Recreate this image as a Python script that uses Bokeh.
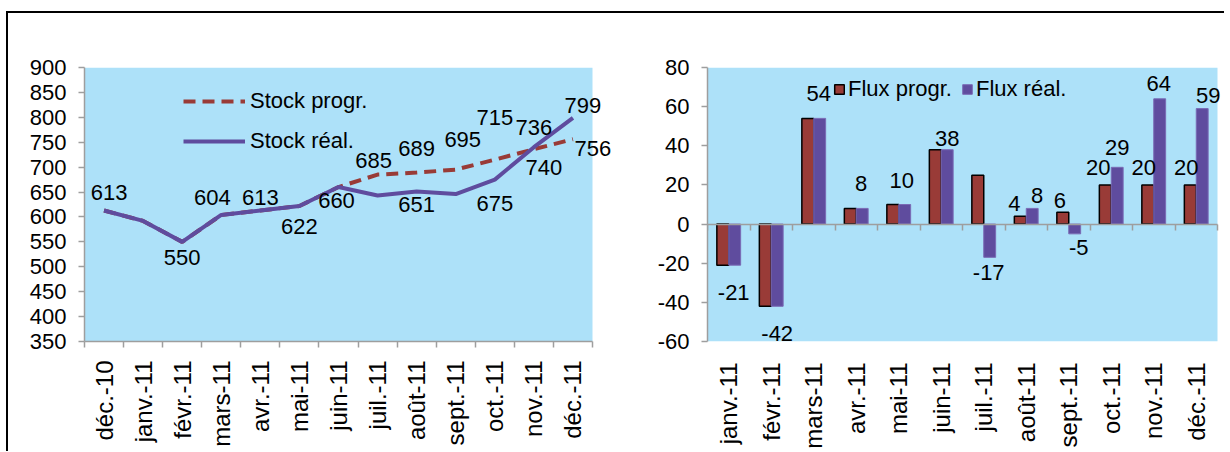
import math
from bokeh.plotting import figure
from bokeh.models import (ColumnDataSource, FixedTicker, Legend, LegendItem,
                          LinearAxis, Range1d, Label, BoxAnnotation)
from bokeh.layouts import row
from bokeh.embed import file_html
from bokeh.resources import INLINE
from bokeh.transform import dodge

# ---------------- data ----------------
stock_months = ["déc.-10", "janv.-11", "févr.-11", "mars-11", "avr.-11", "mai-11",
                "juin-11", "juil.-11", "août-11", "sept.-11", "oct.-11", "nov.-11", "déc.-11"]
stock_prog = [613, 592, 550, 604, 613, 622, 660, 685, 689, 695, 715, 736, 756]
stock_real = [613, 592, 550, 604, 613, 622, 660, 643, 651, 646, 675, 740, 799]
stock_real_labelled = [0, 2, 3, 4, 5, 6, 8, 10, 11, 12]
stock_prog_labelled = [7, 8, 9, 10, 11, 12]

flux_months = ["janv.-11", "févr.-11", "mars-11", "avr.-11", "mai-11", "juin-11",
               "juil.-11", "août-11", "sept.-11", "oct.-11", "nov.-11", "déc.-11"]
flux_prog = [-21, -42, 54, 8, 10, 38, 25, 4, 6, 20, 20, 20]
flux_real = [-21, -42, 54, 8, 10, 38, -17, 8, -5, 29, 64, 59]
flux_prog_labelled = [7, 8, 9, 10, 11]

stock_ticks = list(range(350, 901, 50))
flux_ticks = list(range(-60, 81, 20))

# ---------------- styles ----------------
BG = "#ADE1F9"
RED = "#993B37"
PURPLE = "#5F4C9E"
GREY = "#9E9E9E"
FONT = "Liberation Sans"
FS = "22px"
XFS = "24px"

# label placement (pixels, + = up / right) -- styling only
real_lbl_dx = [5, 0, -9, 0, 0, -2, 0, 0, 10, 10]
real_lbl_dy = [18, -16, 17, 13, -21, -13, -13, -24, -20, 12]
prog_lbl_dx = [-4, 0, 7, 0, 0, 20]
prog_lbl_dy = [14, 24, 30, 42, 22, -9]

fr_lbl_dx = [-1, 0, -1, -1, -3, 0, -1, 5, 4, 0, -1, 6]
fr_lbl_dy = [-27, -27, 25, 25, 24, 11, -15, 13, -14, 20, 15, 13]
fp_lbl_dx = [-6, -3, -7, -4, -4]
fp_lbl_dy = [13, 12, 17, 17, 17]

H = 438
TOP = 54
FRAME_H = 275
MB = H - TOP - FRAME_H
W1, BL1, PLOT_W1 = 606, 76, 508   # left figure: width, left border, coloured plot width
W2, BL2, PLOT_W2 = 610, 93, 510   # right figure


def style_common(p, ticks, n, plot_w, fig_w, border_l):
    # blue plot area limited to the categories; frame extended so edge labels are not cut
    p.background_fill_color = "white"
    p.border_fill_color = "white"
    p.outline_line_color = None
    p.grid.visible = False
    p.add_layout(BoxAnnotation(left=-0.5, right=n - 0.5, fill_color=BG, fill_alpha=1,
                               line_color=None, level="underlay"))
    for ax in p.yaxis:
        ax.ticker = FixedTicker(ticks=ticks)
        ax.major_label_overrides = {t: str(t) for t in ticks}
        ax.axis_line_color = GREY
        ax.axis_line_width = 1.5
        ax.major_tick_line_color = GREY
        ax.major_tick_line_width = 1.5
        ax.major_tick_out = 6
        ax.major_tick_in = 0
        ax.minor_tick_line_color = None
        ax.major_label_standoff = 12
        ax.major_label_text_font = FONT
        ax.major_label_text_font_size = FS
        ax.major_label_text_color = "black"


def x_end(n, plot_w, fig_w, border_l):
    cat_px = plot_w / n
    return -0.5 + (fig_w - border_l) / cat_px


def add_labels(p, xs, ys, dxs, dys):
    for x, y, dx, dy in zip(xs, ys, dxs, dys):
        p.add_layout(Label(x=x, y=y, text=str(y), x_offset=dx, y_offset=dy,
                           text_align="center", text_baseline="middle", text_color="black",
                           text_font=FONT, text_font_size=FS))


def style_xaxis(ax, months, standoff):
    ax.major_label_overrides = {i: m for i, m in enumerate(months)}
    ax.major_label_orientation = math.pi / 2
    ax.major_tick_line_color = None
    ax.major_tick_out = 6
    ax.major_tick_in = 0
    ax.major_label_standoff = standoff
    ax.major_label_text_font = FONT
    ax.major_label_text_font_size = XFS
    ax.major_label_text_color = "black"


# ---------------- left chart: stocks ----------------
n1 = len(stock_months)
p1 = figure(width=W1, height=H, x_range=Range1d(-0.5, x_end(n1, PLOT_W1, W1, BL1)),
            y_range=Range1d(stock_ticks[0], stock_ticks[-1]),
            output_backend="svg", toolbar_location=None,
            min_border_left=BL1, min_border_right=0, min_border_top=TOP, min_border_bottom=MB)
style_common(p1, stock_ticks, n1, PLOT_W1, W1, BL1)

xa = p1.xaxis[0]
xa.ticker = FixedTicker(ticks=list(range(n1)), minor_ticks=[i - 0.5 for i in range(n1 + 1)])
xa.bounds = (-0.5, n1 - 0.5)
style_xaxis(xa, stock_months, 13)
xa.minor_tick_line_color = GREY
xa.minor_tick_line_width = 1.5
xa.minor_tick_out = 6
xa.minor_tick_in = 0
xa.axis_line_color = GREY
xa.axis_line_width = 1.5

src1 = ColumnDataSource(dict(x=list(range(n1)), prog=stock_prog, real=stock_real))
r_prog = p1.line("x", "prog", source=src1, line_color=RED, line_width=4, line_dash="12 7")
r_real = p1.line("x", "real", source=src1, line_color=PURPLE, line_width=4)

add_labels(p1, stock_real_labelled, [stock_real[i] for i in stock_real_labelled],
           real_lbl_dx, real_lbl_dy)
add_labels(p1, stock_prog_labelled, [stock_prog[i] for i in stock_prog_labelled],
           prog_lbl_dx, prog_lbl_dy)

leg1 = Legend(items=[LegendItem(label="Stock progr.", renderers=[r_prog]),
                     LegendItem(label="Stock réal.", renderers=[r_real])],
              location=(99, 187), orientation="vertical",
              background_fill_alpha=0, border_line_color=None,
              padding=0, margin=0, spacing=14,
              glyph_width=62, glyph_height=24, label_height=24, label_standoff=5,
              label_text_font=FONT, label_text_font_size=FS, label_text_color="black")
p1.add_layout(leg1)

# ---------------- right chart: flux ----------------
n2 = len(flux_months)
p2 = figure(width=W2, height=H, x_range=Range1d(-0.5, x_end(n2, PLOT_W2, W2, BL2)),
            y_range=Range1d(flux_ticks[0], flux_ticks[-1]),
            output_backend="svg", toolbar_location=None,
            min_border_left=BL2, min_border_right=0, min_border_top=TOP, min_border_bottom=MB)
style_common(p2, flux_ticks, n2, PLOT_W2, W2, BL2)

xb = p2.xaxis[0]
xb.ticker = FixedTicker(ticks=list(range(n2)))
style_xaxis(xb, flux_months, 15)
xb.minor_tick_line_color = None
xb.axis_line_color = None

zero_axis = LinearAxis(fixed_location=0, bounds=(-0.5, n2 - 0.5),
                       ticker=FixedTicker(ticks=[], minor_ticks=[i - 0.5 for i in range(n2 + 1)]),
                       axis_line_color=GREY, axis_line_width=1.5,
                       major_tick_line_color=None, minor_tick_line_color=GREY,
                       minor_tick_line_width=1.5, minor_tick_in=6, minor_tick_out=0,
                       major_label_text_alpha=0)
p2.add_layout(zero_axis, "above")

src2 = ColumnDataSource(dict(x=list(range(n2)), prog=flux_prog, real=flux_real))
bw = 0.28
r_fp = p2.vbar(x=dodge("x", -bw / 2, range=p2.x_range), top="prog", bottom=0, width=bw,
               source=src2, fill_color=RED, line_color="black", line_width=1.5)
r_fr = p2.vbar(x=dodge("x", bw / 2, range=p2.x_range), top="real", bottom=0, width=bw,
               source=src2, fill_color=PURPLE, line_color="#7A6AB5", line_width=1)

add_labels(p2, [i + bw / 2 for i in range(n2)], flux_real, fr_lbl_dx, fr_lbl_dy)
add_labels(p2, [i - bw / 2 for i in flux_prog_labelled],
           [flux_prog[i] for i in flux_prog_labelled], fp_lbl_dx, fp_lbl_dy)

leg2 = Legend(items=[LegendItem(label="Flux progr.", renderers=[r_fp]),
                     LegendItem(label="Flux réal.", renderers=[r_fr])],
              location=(126, 239), orientation="horizontal",
              background_fill_alpha=0, border_line_color=None,
              padding=0, margin=0, spacing=9,
              glyph_width=12, glyph_height=12, label_height=12, label_standoff=3,
              label_text_font=FONT, label_text_font_size=FS, label_text_color="black")
p2.add_layout(leg2)

layout = row(p1, p2, margin=(11, 0, 0, 6),
             styles={"border-top": "2px solid black", "border-left": "2px solid black"})
open("out.html", "w").write(file_html(layout, INLINE))
